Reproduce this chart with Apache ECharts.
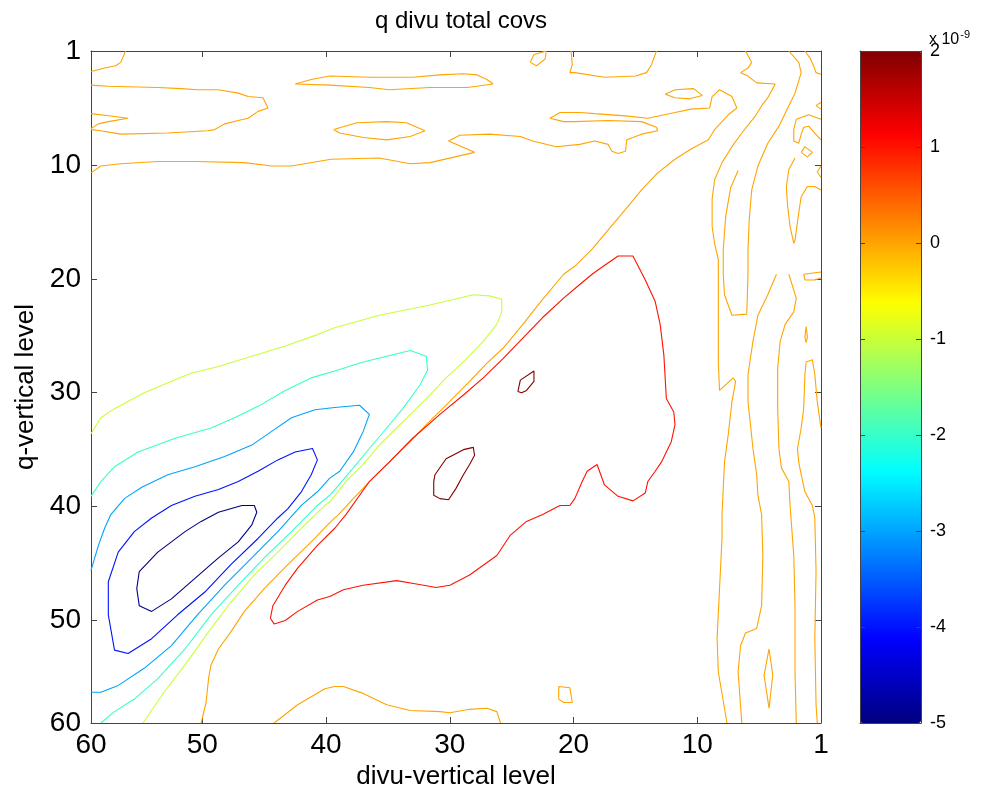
<!DOCTYPE html>
<html><head><meta charset="utf-8">
<script src="https://cdn.jsdelivr.net/npm/echarts@6/dist/echarts.min.js"></script>
<style>html,body{margin:0;padding:0;background:#fff}#c{width:984px;height:788px}</style>
</head><body><div id="c"></div><script>
// ---- axis ticks (grid-index coordinates, labels as printed) ----
const xTickValues = [1, 10, 20, 30, 40, 50, 60];
const xTickLabels = ['60', '50', '40', '30', '20', '10', '1'];
const yTickValues = [1, 11, 21, 31, 41, 51, 60];
const yTickLabels = ['1', '10', '20', '30', '40', '50', '60'];
const colorbarMin = -5, colorbarMax = 2;

// ---- contour lines, [x, y] in grid-index coordinates ----
const levelM5 = [
  [[13.2,40.9],[14.2,40.9],[14.4,41.5],[14.0,42.6],[12.9,44.1],[11.3,45.5],[9.4,47.3],[7.5,49.1],[5.9,50.2],[4.9,49.7],[4.7,48.2],[4.9,46.7],[6.4,45.0],[8.6,43.2],[9.9,42.3],[11.3,41.5],[13.2,40.9]]
];
const levelM4 = [
  [[7.5,40.9],[9.4,40.1],[11.3,39.5],[12.9,38.8],[14.5,37.9],[16.1,36.9],[17.5,36.2],[18.9,35.9],[19.3,36.9],[18.8,38.2],[18.0,39.7],[16.9,41.2],[16.1,42.0],[14.5,43.8],[12.3,46.1],[10.2,48.5],[8.0,50.5],[5.9,52.6],[4.0,53.9],[2.9,53.6],[2.4,50.5],[2.4,47.6],[3.2,45.0],[4.5,43.2],[5.9,42.0],[7.5,40.9]]
];
const levelM3 = [
  [[1,46.6],[1.6,44.4],[2.1,42.9],[2.6,41.7],[3.7,40.3],[5.1,39.3],[7.2,38.2],[9.4,37.5],[11.8,36.6],[14.0,35.6],[15.6,34.4],[17.2,33.2],[19.1,32.5],[20.7,32.3],[22.7,32.1],[23.5,32.9],[23.0,34.4],[22.2,36.2],[21.1,37.9],[20.3,38.5],[19.3,39.7],[18.0,40.9],[16.1,43.2],[14.0,45.5],[11.8,47.9],[9.6,50.5],[7.5,53.2],[5.3,55.2],[3.2,56.7],[1.8,57.3],[1,57.3]]
];
const levelM2 = [
  [[1,40.1],[1.8,38.8],[2.9,37.5],[4.8,36.2],[7.8,35.0],[10.7,34.1],[12.6,33.2],[14.5,32.2],[16.7,30.8],[18.8,29.7],[20.7,29.1],[23.0,28.3],[26.8,27.3],[28.1,27.8],[28.2,29.0],[27.6,30.3],[26.2,32.4],[24.9,34.1],[23.5,35.9],[22.2,37.6],[20.8,39.4],[20.3,40.0],[19.3,40.9],[17.2,43.2],[15.0,45.5],[12.9,47.9],[10.7,50.5],[8.6,53.5],[6.4,56.1],[4.5,57.9],[2.9,59.0],[1.8,60]]
];
const levelM1 = [
  [[1,34.6],[1.8,33.2],[2.9,32.4],[5.3,31.0],[7.5,30.0],[9.1,29.3],[11.3,28.7],[14.0,27.8],[16.7,26.9],[19.3,25.9],[20.7,25.3],[24.3,24.2],[28.4,23.3],[31.9,22.4],[33.2,22.5],[34.2,22.8],[34.2,23.9],[33.8,25.0],[32.7,26.5],[31.1,28.3],[29.7,29.7],[28.4,31.2],[27.0,32.7],[25.7,34.1],[24.3,35.6],[23.0,37.3],[21.6,38.8],[20.3,40.6],[19.9,40.9],[18.0,42.9],[16.1,45.0],[14.2,47.0],[12.3,49.4],[10.5,52.0],[8.6,54.9],[6.9,57.3],[5.2,60]]
];
const level0 = [
  [[3.8,1],[3.4,2.0],[3.0,2.3],[2.1,2.5],[1,2.8]],
  [[1,4.0],[2.4,4.1],[6.4,4.2],[8.3,4.3],[9.6,4.4],[11.3,4.4],[12.9,4.7],[13.7,5.0],[14.9,5.1],[15.3,6.0],[14.5,6.3],[13.7,6.9],[12.9,7.1],[11.8,7.4],[11.0,7.9],[10.4,8.0],[7.2,8.2],[3.4,8.3],[1.8,8.0],[1,7.9]],
  [[1,6.5],[2.6,6.7],[4.0,6.9],[2.4,7.2],[1.6,7.4],[1,7.8]],
  [[1,11.7],[1.8,11.1],[3.4,10.9],[6.4,10.7],[9.4,10.7],[13.4,10.8],[15.6,11.1],[17.2,11.1],[20.4,10.5],[24.3,10.4],[26.8,10.9],[28.4,10.8],[32.0,9.9],[29.9,8.9],[30.8,8.4],[33.2,8.3],[35.7,8.5],[36.7,8.9],[38.6,9.4],[40.5,9.2],[41.7,8.9],[42.8,9.2],[43.1,9.8],[43.6,10.0],[44.2,9.8],[44.3,8.8],[45.5,8.3],[46.8,8.0],[46.7,7.7],[45.5,7.2],[42.8,7.1],[40.1,7.2],[39.2,7.2],[38.1,6.9],[38.9,6.4],[40.5,6.4],[41.7,6.5],[44.2,6.7],[46.0,6.9],[48.2,6.4],[49.5,6.1],[51.0,6.0],[51.2,5.0],[51.8,4.4],[52.8,5.0],[53.2,6.0],[52.5,6.6],[52.0,7.2],[51.4,7.9],[50.9,8.8],[49.5,9.6],[48.2,10.5],[46.8,11.7],[45.5,13.2],[44.2,14.9],[42.8,16.7],[41.5,18.4],[40.1,19.9],[39.2,20.6],[37.5,22.8],[35.9,25.0],[34.3,27.1],[33.0,28.4],[31.6,30.0],[29.7,32.1],[28.1,33.8],[26.8,35.3],[25.1,37.1],[23.5,38.8],[22.2,40.3],[21.0,41.7],[20.4,42.3],[18.8,44.1],[16.9,46.1],[15.0,48.2],[13.4,50.2],[12.3,52.0],[11.3,53.5],[10.7,54.9],[10.5,56.1],[10.3,58.2],[9.9,60]],
  [[57.4,1],[58.2,2.0],[58.4,2.9],[57.9,4.7],[57.4,5.8],[56.6,7.6],[55.7,9.1],[54.9,11.1],[54.4,13.2],[54.2,15.8],[54.1,18.4],[54.1,20.6],[54.0,24.1],[52.8,24.2],[52.2,22.4],[52.1,20.6],[52.1,18.4],[52.3,15.5],[52.7,13.0],[53.3,11.5]],
  [[20.6,7.9],[22.5,7.3],[24.9,7.2],[26.5,7.3],[28.0,8.0],[26.8,8.5],[24.9,8.8],[23.0,8.6],[21.1,8.2],[20.6,7.9]],
  [[17.5,3.9],[18.8,3.5],[20.3,3.2],[23.5,3.3],[27.0,3.3],[29.2,3.1],[31.1,3.0],[32.2,3.1],[33.0,3.5],[33.5,3.9],[31.4,4.2],[28.4,4.2],[25.1,4.4],[23.5,4.2],[20.3,4.0],[17.5,3.9]],
  [[36.5,2.0],[36.8,1.3],[37.8,1.0],[37.7,1.7],[37.0,2.3],[36.5,2.0]],
  [[39.8,1],[39.9,2.2],[39.7,2.9],[40.1,2.9],[42.5,3.3],[45.0,3.2],[45.9,2.9],[46.3,2.2],[46.7,1]],
  [[47.4,4.8],[48.2,4.4],[49.7,4.3],[50.4,4.9],[49.4,5.2],[48.2,5.1],[47.4,4.8]],
  [[53.9,1],[54.4,2.0],[54.1,2.5],[53.5,2.9],[54.1,3.2],[54.8,3.8],[56.3,3.9],[55.7,5.1],[55.2,5.8],[54.7,6.7],[53.6,8.2],[52.8,9.4],[52.0,10.8],[51.4,12.3],[51.2,14.0],[51.2,16.4],[51.4,17.9],[51.7,19.3],[51.7,20.6],[51.7,23.6],[51.7,28.3],[51.8,30.8],[52.9,29.7],[53.1,30.0],[52.8,31.8],[52.5,34.7],[52.2,37.1],[52.1,39.4],[52.0,41.7],[52.0,43.8],[51.8,48.2],[51.6,52.6],[51.7,55.5],[52.4,60]],
  [[58.7,1],[59.1,1.6],[59.4,2.3],[59.6,2.9],[60,3.05]],
  [[60,5.5],[59.6,5.8],[60,6.1]],
  [[60,7.0],[59.0,6.6],[58.0,7.0],[57.8,7.9],[57.8,8.9],[58.2,9.1],[58.4,8.3],[58.6,7.7],[59.0,7.6],[59.5,8.2],[60,8.8]],
  [[58.4,9.9],[58.7,9.4],[59.3,9.9],[58.9,10.3],[58.4,9.9]],
  [[60,11.1],[59.7,11.6],[60,12.1]],
  [[60,13.2],[59.5,12.9],[58.9,12.9],[58.4,13.8],[58.2,15.2],[57.9,17.6],[57.8,17.9],[57.5,16.4],[57.3,14.6],[57.2,12.9],[57.4,11.4],[57.9,10.4]],
  [[56.4,20.6],[55.7,22.4],[54.9,24.2],[54.5,26.5],[54.1,29.4],[54.1,31.8],[54.3,33.8],[54.5,35.9],[54.8,38.2],[54.9,40.0],[55.2,41.7],[55.3,45.3],[55.2,49.7],[54.8,51.7],[53.9,52.1],[53.5,53.2],[53.3,55.5],[53.6,60]],
  [[57.4,20.6],[58.0,22.7],[57.8,23.9],[57.1,25.0],[56.7,26.5],[56.5,28.8],[56.5,32.4],[56.6,35.9],[56.8,37.6],[57.4,38.8],[57.5,40.9],[57.8,45.3],[57.9,49.7],[57.9,55.5],[58.0,60]],
  [[60,20.4],[58.6,20.6],[58.7,21.1],[59.5,21.1],[60,20.9]],
  [[58.8,25.2],[58.9,26.1],[58.8,26.6],[58.7,26.1],[58.8,25.2]],
  [[60,34.1],[59.7,31.8],[59.5,29.4],[59.3,28.1],[58.8,28.3],[58.7,29.4],[58.6,32.4],[58.4,34.1],[58.1,35.9],[58.2,37.1],[58.4,38.2],[58.7,39.7],[59.3,40.9],[59.5,42.0],[59.6,46.7],[59.5,52.6],[59.6,58.4],[59.7,60]],
  [[55.8,53.5],[56.1,55.8],[55.8,58.7],[55.4,55.8],[55.8,53.5]],
  [[15.8,60],[17.7,58.4],[19.9,57.0],[20.7,56.8],[21.4,56.8],[23.0,57.4],[24.9,58.4],[26.8,58.9],[29.2,59.0],[30.0,59.1],[31.6,58.8],[33.0,58.7],[33.8,59.0],[34.1,60]],
  [[38.8,56.8],[39.7,56.9],[39.9,58.2],[39.2,58.2],[38.8,57.9],[38.8,56.8]]
];
const level1 = [
  [[15.5,50.8],[15.7,49.7],[16.7,47.9],[17.7,46.4],[19.3,44.4],[20.7,42.9],[21.6,41.7],[23.5,38.8],[25.1,37.1],[27.0,35.0],[29.2,32.9],[31.1,31.2],[32.7,29.7],[34.3,28.0],[35.9,26.2],[37.5,24.4],[39.2,22.7],[40.5,21.5],[41.5,20.6],[42.0,20.2],[43.6,19.0],[44.8,19.0],[45.8,21.1],[46.6,23.0],[47.0,25.0],[47.3,27.7],[47.5,31.5],[48.1,32.7],[48.2,33.8],[47.9,35.3],[47.1,37.1],[46.6,37.9],[46.0,38.8],[45.8,39.8],[44.8,40.5],[43.6,40.1],[42.5,39.1],[41.9,37.3],[41.1,37.9],[40.7,38.8],[40.1,40.3],[39.7,40.9],[38.9,40.9],[37.5,41.7],[36.2,42.3],[34.9,43.5],[33.8,45.3],[31.6,47.0],[30.0,47.9],[28.9,48.1],[27.3,47.8],[25.7,47.5],[23.0,47.9],[21.4,48.3],[20.3,48.9],[19.3,49.2],[17.7,50.2],[16.7,51.0],[15.8,51.3],[15.5,50.8]]
];
const level2 = [
  [[35.5,30.9],[35.7,29.9],[36.8,29.1],[36.8,30.0],[36.2,30.8],[35.8,31.0],[35.5,30.9]],
  [[28.7,38.8],[28.8,38.2],[29.7,36.8],[31.1,36.0],[31.9,35.8],[32.0,36.5],[31.6,37.3],[31.1,38.2],[30.5,39.4],[29.9,40.4],[29.2,40.3],[28.7,40.0],[28.7,38.8]]
];
const contourSets = [
  [-5, levelM5], [-4, levelM4], [-3, levelM3], [-2, levelM2],
  [-1, levelM1], [0, level0], [1, level1], [2, level2]
];

// ---- jet colormap ----
function clamp01(v) { return Math.max(0, Math.min(1, v)); }
function jet(t) {
  const r = clamp01(1.5 - Math.abs(4 * t - 3));
  const g = clamp01(1.5 - Math.abs(4 * t - 2));
  const b = clamp01(1.5 - Math.abs(4 * t - 1));
  const h = v => Math.round(v * 255).toString(16).padStart(2, '0');
  return '#' + h(r) + h(g) + h(b);
}
const jetStops = [];
for (let i = 0; i <= 8; i++) jetStops.push(jet(i / 8));

const series = [];
contourSets.forEach(([lev, lines]) => {
  const col = jet((lev - colorbarMin) / (colorbarMax - colorbarMin));
  lines.forEach(pts => {
    series.push({
      type: 'line', xAxisIndex: 0, yAxisIndex: 0, data: pts,
      showSymbol: false, symbol: 'none', smooth: false, clip: true,
      silent: true, animation: false,
      lineStyle: { color: col, width: 1.1 }
    });
  });
});
series.push({ type: 'scatter', xAxisIndex: 2, yAxisIndex: 2, data: [], silent: true });
const cbIndex = series.length - 1;

const axisCol = '#444';
const fontFam = 'Liberation Sans, Arial, Helvetica, sans-serif';

const option = {
  backgroundColor: '#fff',
  animation: false,
  title: [
    { text: 'q divu total covs', left: 456, top: 4, textAlign: 'center',
      textStyle: { fontSize: 24, fontWeight: 'normal', color: '#000', fontFamily: fontFam } },
    { text: '{a|x 10}{b|-9}', left: 924, top: 24,
      textStyle: { fontWeight: 'normal', rich: {
        a: { fontSize: 16, color: '#000', fontFamily: fontFam, fontWeight: 'normal' },
        b: { fontSize: 11, color: '#000', fontFamily: fontFam, fontWeight: 'normal', verticalAlign: 'top', padding: [0, 0, 10, 1] }
      } } }
  ],
  grid: [
    { left: 91, top: 51, width: 730, height: 672, show: false, containLabel: false, outerBoundsMode: 'none' },
    { left: 860, top: 51, width: 61, height: 672, show: false, containLabel: false, outerBoundsMode: 'none' }
  ],
  visualMap: {
    type: 'continuous', min: colorbarMin, max: colorbarMax, calculable: false,
    seriesIndex: cbIndex, orient: 'vertical', left: 860, top: 51, padding: 0,
    itemWidth: 61, itemHeight: 672, text: null, showLabel: false, hoverLink: false,
    inRange: { color: jetStops }, z: 1
  },
  xAxis: [
    { type: 'value', gridIndex: 0, min: 1, max: 60, position: 'bottom',
      name: 'divu-vertical level', nameLocation: 'middle', nameGap: 37,
      nameTextStyle: { fontSize: 26, color: '#000', fontFamily: fontFam },
      axisLine: { onZero: false, lineStyle: { color: axisCol, width: 1 } },
      axisTick: { inside: true, length: 6, customValues: xTickValues, lineStyle: { color: axisCol } },
      axisLabel: { customValues: xTickValues, fontSize: 28, color: '#000', fontFamily: fontFam, margin: 8,
        formatter: v => xTickLabels[xTickValues.indexOf(v)] },
      splitLine: { show: false } },
    { type: 'value', gridIndex: 0, min: 1, max: 60, position: 'top',
      axisLine: { onZero: false, lineStyle: { color: axisCol, width: 1 } },
      axisTick: { inside: true, length: 6, customValues: xTickValues, lineStyle: { color: axisCol } },
      axisLabel: { show: false }, splitLine: { show: false } },
    { type: 'value', gridIndex: 1, min: 0, max: 1, position: 'bottom',
      axisLine: { onZero: false, lineStyle: { color: axisCol } }, axisTick: { show: false },
      axisLabel: { show: false }, splitLine: { show: false }, z: 10 },
    { type: 'value', gridIndex: 1, min: 0, max: 1, position: 'top',
      axisLine: { onZero: false, lineStyle: { color: axisCol } }, axisTick: { show: false },
      axisLabel: { show: false }, splitLine: { show: false }, z: 10 }
  ],
  yAxis: [
    { type: 'value', gridIndex: 0, min: 1, max: 60, inverse: true, position: 'left',
      name: 'q-vertical level', nameLocation: 'middle', nameGap: 45, nameRotate: 90,
      nameTextStyle: { fontSize: 26, color: '#000', fontFamily: fontFam },
      axisLine: { onZero: false, lineStyle: { color: axisCol, width: 1 } },
      axisTick: { inside: true, length: 6, customValues: yTickValues, lineStyle: { color: axisCol } },
      axisLabel: { customValues: yTickValues, fontSize: 28, color: '#000', fontFamily: fontFam, margin: 10,
        formatter: v => yTickLabels[yTickValues.indexOf(v)] },
      splitLine: { show: false } },
    { type: 'value', gridIndex: 0, min: 1, max: 60, inverse: true, position: 'right',
      axisLine: { onZero: false, lineStyle: { color: axisCol, width: 1 } },
      axisTick: { inside: true, length: 6, customValues: yTickValues, lineStyle: { color: axisCol } },
      axisLabel: { show: false }, splitLine: { show: false } },
    { type: 'value', gridIndex: 1, min: colorbarMin, max: colorbarMax, interval: 1, position: 'right',
      axisLine: { onZero: false, lineStyle: { color: axisCol } },
      axisTick: { inside: true, length: 5, lineStyle: { color: axisCol } },
      axisLabel: { fontSize: 18, color: '#000', fontFamily: fontFam, margin: 9 },
      splitLine: { show: false }, z: 10 },
    { type: 'value', gridIndex: 1, min: colorbarMin, max: colorbarMax, interval: 1, position: 'left',
      axisLine: { onZero: false, lineStyle: { color: axisCol } },
      axisTick: { inside: true, length: 5, lineStyle: { color: axisCol } },
      axisLabel: { show: false }, splitLine: { show: false }, z: 10 }
  ],
  series: series
};
const chart = echarts.init(document.getElementById('c'), null, { renderer: 'canvas' });
chart.setOption(option);
</script></body></html>
